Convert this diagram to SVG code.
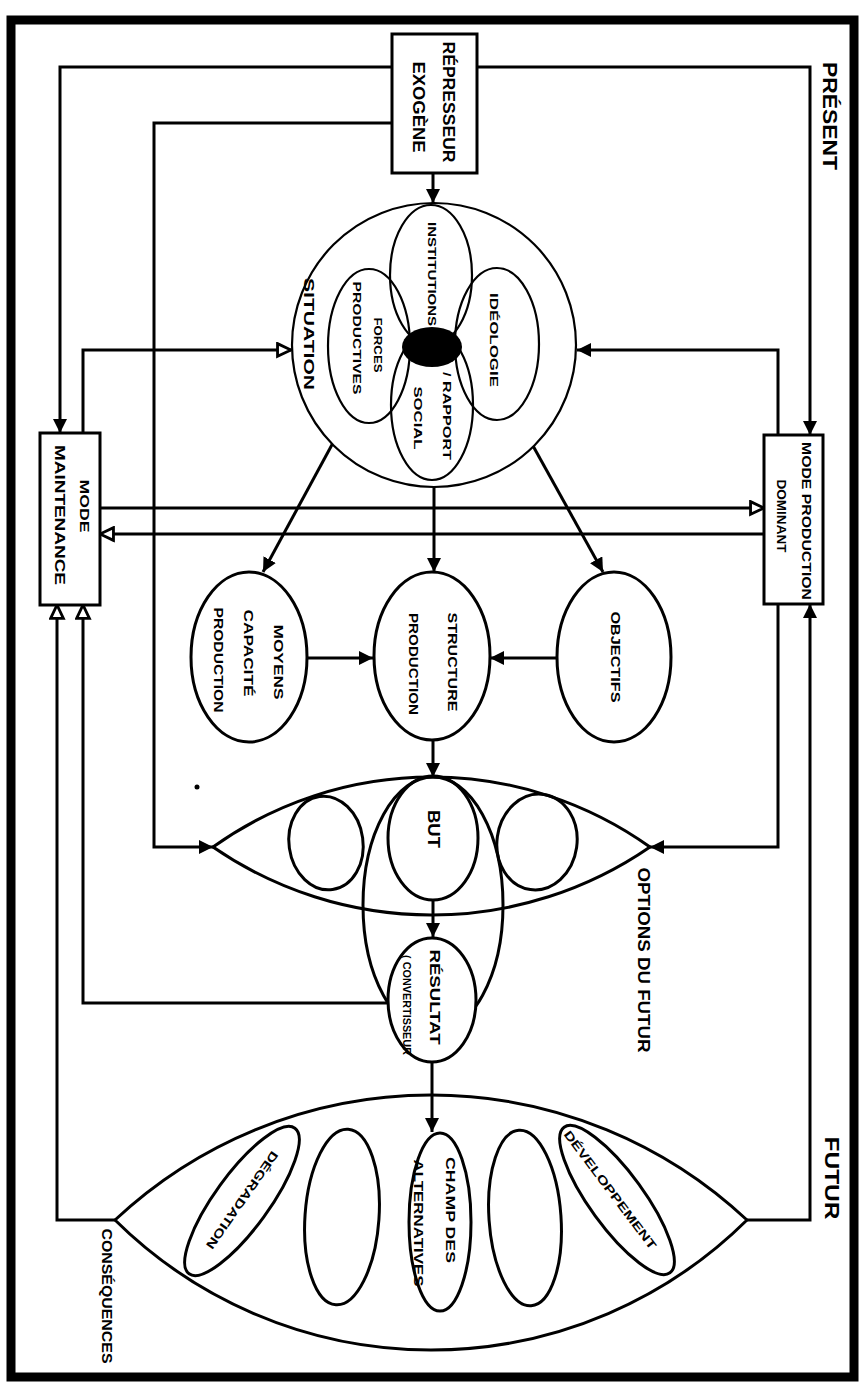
<svg xmlns="http://www.w3.org/2000/svg" width="862" height="1385" viewBox="0 0 862 1385">
<style>
.ln{fill:none;stroke:#000;stroke-width:3;stroke-linejoin:miter}
.sh{fill:none;stroke:#000;stroke-width:3}
.shw{fill:#fff;stroke:#000;stroke-width:3}
.th{fill:none;stroke:#000;stroke-width:2.2}
.t{font-family:"Liberation Sans",Arial,sans-serif;font-weight:bold;fill:#000;text-anchor:middle;dominant-baseline:central}
</style>
<defs>
<marker id="af" viewBox="0 0 10 10" refX="10" refY="5" markerWidth="14" markerHeight="14" markerUnits="userSpaceOnUse" orient="auto"><path d="M0,0 L10,5 L0,10 z" fill="#000"/></marker>
<marker id="ao" viewBox="-1 -1 12 12" refX="10" refY="5" markerWidth="17" markerHeight="17" markerUnits="userSpaceOnUse" orient="auto"><path d="M0.5,0.5 L10,5 L0.5,9.5 z" fill="#fff" stroke="#000" stroke-width="2"/></marker>
</defs>
<rect x="0" y="0" width="862" height="1385" fill="#fff"/>
<rect x="11" y="20" width="843" height="1357" fill="none" stroke="#000" stroke-width="9"/>

<g id="labels">
<text class="t" font-size="20" textLength="108" lengthAdjust="spacingAndGlyphs" transform="translate(830,116) rotate(90)">PRÉSENT</text>
<text class="t" font-size="20" textLength="83" lengthAdjust="spacingAndGlyphs" transform="translate(832,1178) rotate(90)">FUTUR</text>
<circle cx="197" cy="787" r="2.5" fill="#000"/>
</g>

<g id="connectors">
<path class="ln" d="M392,67 H60 V433" marker-end="url(#af)"/>
<path class="ln" d="M392,123 H154 V847 H213" marker-end="url(#af)"/>
<path class="ln" d="M477,67 H810 V435" marker-end="url(#af)"/>
<path class="ln" d="M433,173 V203" marker-end="url(#af)"/>
<path class="ln" d="M83,433 V350 H291" marker-end="url(#ao)"/>
<path class="ln" d="M778,435 V350 H577" marker-end="url(#af)"/>
<path class="ln" d="M100,508 H764" marker-end="url(#ao)"/>
<path class="ln" d="M764,534 H100" marker-end="url(#ao)"/>
<path class="ln" d="M347,417 L263,572" marker-end="url(#af)"/>
<path class="ln" d="M434,487 V572" marker-end="url(#af)"/>
<path class="ln" d="M517,417 L603,572" marker-end="url(#af)"/>
<path class="ln" d="M307,658 H373" marker-end="url(#af)"/>
<path class="ln" d="M557,658 H490" marker-end="url(#af)"/>
<path class="ln" d="M433,740 V777" marker-end="url(#af)"/>
<path class="ln" d="M778,604 V847 H650" marker-end="url(#af)"/>
<path class="ln" d="M433,900 V937" marker-end="url(#af)"/>
<path class="ln" d="M388,1003 H83 V605" marker-end="url(#ao)"/>
<path class="ln" d="M432,1062 V1132" marker-end="url(#af)"/>
<path class="ln" d="M115,1220 H57 V605" marker-end="url(#ao)"/>
<path class="ln" d="M747,1220 H810 V604" marker-end="url(#af)"/>
</g>

<g id="represseur">
<rect class="shw" x="392" y="34" width="85" height="139"/>
<text class="t" font-size="17" textLength="121" lengthAdjust="spacingAndGlyphs" transform="translate(448,102) rotate(90)">RÉPRESSEUR</text>
<text class="t" font-size="17" textLength="91" lengthAdjust="spacingAndGlyphs" transform="translate(418,107) rotate(90)">EXOGÈNE</text>
</g>

<g id="mode-maintenance">
<rect class="shw" x="40" y="433" width="60" height="172"/>
<text class="t" font-size="13" textLength="53" lengthAdjust="spacingAndGlyphs" transform="translate(84,506) rotate(90)">MODE</text>
<text class="t" font-size="14" textLength="140" lengthAdjust="spacingAndGlyphs" transform="translate(60,515) rotate(90)">MAINTENANCE</text>
</g>

<g id="mode-production">
<rect class="shw" x="764" y="435" width="59" height="169"/>
<text class="t" font-size="13" textLength="158" lengthAdjust="spacingAndGlyphs" transform="translate(806,521) rotate(90)">MODE PRODUCTION</text>
<text class="t" font-size="13" textLength="73" lengthAdjust="spacingAndGlyphs" transform="translate(781,516) rotate(90)">DOMINANT</text>
</g>

<g id="situation">
<circle cx="434" cy="345" r="142" fill="#fff" stroke="#000" stroke-width="2.2"/>
<ellipse class="th" cx="431" cy="275" rx="41" ry="70"/>
<ellipse class="th" cx="432" cy="405" rx="41" ry="75"/>
<ellipse class="th" cx="369" cy="346" rx="41" ry="77"/>
<ellipse class="th" cx="497" cy="344" rx="42" ry="76"/>
<ellipse cx="432" cy="347" rx="30" ry="20" fill="#000"/>
<text class="t" font-size="15" textLength="112" lengthAdjust="spacingAndGlyphs" transform="translate(309,334) rotate(90)">SITUATION</text>
<text class="t" font-size="11" textLength="104" lengthAdjust="spacingAndGlyphs" transform="translate(432,274) rotate(90)">INSTITUTIONS</text>
<text class="t" font-size="11" textLength="88" lengthAdjust="spacingAndGlyphs" transform="translate(447,416) rotate(90)">/ RAPPORT</text>
<text class="t" font-size="11" textLength="63" lengthAdjust="spacingAndGlyphs" transform="translate(418,418) rotate(90)">SOCIAL</text>
<text class="t" font-size="11" textLength="55" lengthAdjust="spacingAndGlyphs" transform="translate(378,345) rotate(90)">FORCES</text>
<text class="t" font-size="11" textLength="113" lengthAdjust="spacingAndGlyphs" transform="translate(357,338) rotate(90)">PRODUCTIVES</text>
<text class="t" font-size="11" textLength="94" lengthAdjust="spacingAndGlyphs" transform="translate(494,340) rotate(90)">IDÉOLOGIE</text>
</g>

<g id="moyens">
<ellipse class="shw" cx="249" cy="657" rx="58" ry="85"/>
<text class="t" font-size="12" textLength="75" lengthAdjust="spacingAndGlyphs" transform="translate(278,662) rotate(90)">MOYENS</text>
<text class="t" font-size="12" textLength="87" lengthAdjust="spacingAndGlyphs" transform="translate(248,653) rotate(90)">CAPACITÉ</text>
<text class="t" font-size="12" textLength="105" lengthAdjust="spacingAndGlyphs" transform="translate(218,660) rotate(90)">PRODUCTION</text>
</g>

<g id="structure">
<ellipse class="shw" cx="432" cy="656" rx="58" ry="84"/>
<text class="t" font-size="12" textLength="99" lengthAdjust="spacingAndGlyphs" transform="translate(452,662) rotate(90)">STRUCTURE</text>
<text class="t" font-size="12" textLength="102" lengthAdjust="spacingAndGlyphs" transform="translate(413,664) rotate(90)">PRODUCTION</text>
</g>

<g id="objectifs">
<ellipse class="shw" cx="614" cy="657" rx="57" ry="85"/>
<text class="t" font-size="12" textLength="91" lengthAdjust="spacingAndGlyphs" transform="translate(615,657) rotate(90)">OBJECTIFS</text>
</g>

<g id="options-futur">
<path class="sh" d="M213,847 A376,376 0 0 1 650,847 A385,385 0 0 1 213,847 z"/>
<ellipse class="sh" cx="326" cy="843" rx="37" ry="47" transform="rotate(-8 326 843)"/>
<ellipse class="sh" cx="537" cy="842" rx="40" ry="48" transform="rotate(8 537 842)"/>
<ellipse class="sh" cx="433" cy="905" rx="70" ry="128"/>
<ellipse class="sh" cx="433" cy="838" rx="45" ry="62"/>
<text class="t" font-size="17" textLength="38" lengthAdjust="spacingAndGlyphs" transform="translate(433,829) rotate(90)">BUT</text>
<text class="t" font-size="16" textLength="185" lengthAdjust="spacingAndGlyphs" transform="translate(643,960) rotate(90)">OPTIONS DU FUTUR</text>
</g>

<g id="resultat">
<ellipse class="shw" cx="432" cy="1000" rx="44" ry="62"/>
<text class="t" font-size="15" textLength="95" lengthAdjust="spacingAndGlyphs" transform="translate(435,997) rotate(90)">RÉSULTAT</text>
<text class="t" font-size="10" textLength="100" lengthAdjust="spacingAndGlyphs" transform="translate(406,1005) rotate(90)">( CONVERTISSEUR</text>
</g>

<g id="consequences">
<path class="sh" d="M115,1220 A462,462 0 0 1 747,1220 A449,449 0 0 1 115,1220 z"/>
<ellipse class="sh" cx="242" cy="1201" rx="27" ry="90" transform="rotate(36 242 1201)"/>
<ellipse class="sh" cx="342" cy="1217" rx="37" ry="88" transform="rotate(4 342 1217)"/>
<ellipse class="sh" cx="440" cy="1222" rx="31" ry="89"/>
<ellipse class="sh" cx="525" cy="1218" rx="36" ry="88" transform="rotate(-4 525 1218)"/>
<ellipse class="sh" cx="617" cy="1200" rx="27" ry="90" transform="rotate(-36 617 1200)"/>
<text class="t" font-size="12" textLength="116" lengthAdjust="spacingAndGlyphs" transform="translate(242,1200) rotate(125)">DÉGRADATION</text>
<text class="t" font-size="12" textLength="106" lengthAdjust="spacingAndGlyphs" transform="translate(450,1210) rotate(90)">CHAMP DES</text>
<text class="t" font-size="12" textLength="127" lengthAdjust="spacingAndGlyphs" transform="translate(418,1223) rotate(90)">ALTERNATIVES</text>
<text class="t" font-size="12" textLength="145" lengthAdjust="spacingAndGlyphs" transform="translate(610,1190) rotate(53)">DÉVELOPPEMENT</text>
<text class="t" font-size="14" textLength="135" lengthAdjust="spacingAndGlyphs" transform="translate(107,1296) rotate(90)">CONSÉQUENCES</text>
</g>
</svg>
